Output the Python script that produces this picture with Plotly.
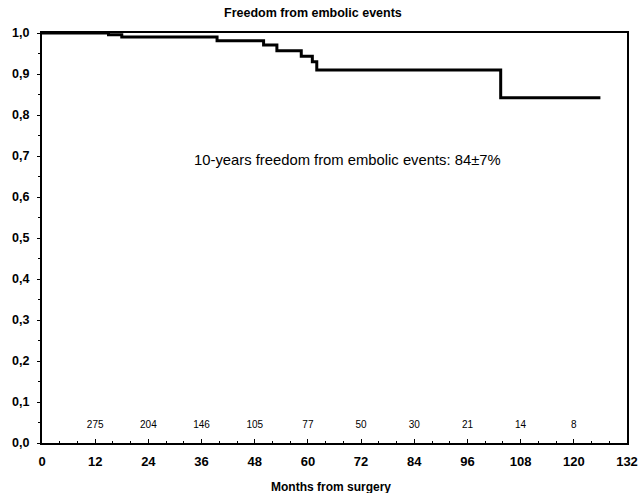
import plotly.graph_objects as go

months = [0, 15, 18, 39.5, 50, 53, 58.5, 61, 62, 103.5, 126]
survival = [1.0, 0.996, 0.99, 0.981, 0.971, 0.957, 0.943, 0.93, 0.91, 0.842, 0.842]

risk_months = [12, 24, 36, 48, 60, 72, 84, 96, 108, 120]
at_risk = ["275", "204", "146", "105", "77", "50", "30", "21", "14", "8"]

fig = go.Figure()
fig.add_trace(go.Scatter(x=months, y=survival, mode="lines", line_shape="hv",
                         line=dict(color="black", width=3), showlegend=False,
                         hoverinfo="skip"))
fig.add_trace(go.Scatter(x=risk_months, y=[0.043] * len(risk_months), mode="text",
                         text=at_risk, textfont=dict(family="Liberation Sans", size=10, color="black"),
                         showlegend=False, hoverinfo="skip"))

fig.add_annotation(x=69, y=0.69, text="10-years freedom from embolic events: 84±7%",
                   showarrow=False, font=dict(family="Liberation Sans", size=14.8, color="black"))

# chart title and x-axis title as paper-anchored text
fig.add_annotation(xref="paper", yref="paper", x=(313 - 42) / 585, y=1 + (33 - 13) / 410,
                   text="<b>Freedom from embolic events</b>", showarrow=False,
                   xanchor="center", yanchor="middle",
                   font=dict(family="Liberation Sans", size=12.5, color="black"))
fig.add_annotation(xref="paper", yref="paper", x=(331 - 42) / 585, y=-(487 - 443) / 410,
                   text="<b>Months from surgery</b>", showarrow=False,
                   xanchor="center", yanchor="middle",
                   font=dict(family="Liberation Sans", size=12, color="black"))

fig.update_layout(
    width=642, height=493,
    margin=dict(l=42, r=15, t=33, b=50, autoexpand=False),
    paper_bgcolor="white", plot_bgcolor="white",
    separators=", ",
    font=dict(family="Liberation Sans", color="black"),
)
fig.update_xaxes(range=[0, 132], tickvals=list(range(0, 133, 12)), ticks="inside", ticklen=4,
                 tickcolor="black", showline=True, linecolor="black", linewidth=2, mirror=True,
                 showgrid=False, zeroline=False, ticklabelstandoff=5, automargin=False,
                 tickfont=dict(family="Liberation Sans", size=13, color="black", weight="bold"),
                 minor=dict(dtick=4, ticks="inside", ticklen=2, tickcolor="black"))
fig.update_yaxes(range=[0, 1.0], dtick=0.1, tickformat=".1f", ticks="outside", ticklen=3,
                 tickcolor="black", showline=True, linecolor="black", linewidth=2, mirror=True,
                 showgrid=False, zeroline=False, ticklabelstandoff=5, automargin=False,
                 tickfont=dict(family="Liberation Sans", size=12.5, color="black", weight="bold"),
                 minor=dict(dtick=0.05, ticks="outside", ticklen=2, tickcolor="black"))

fig.write_html("out.html")
